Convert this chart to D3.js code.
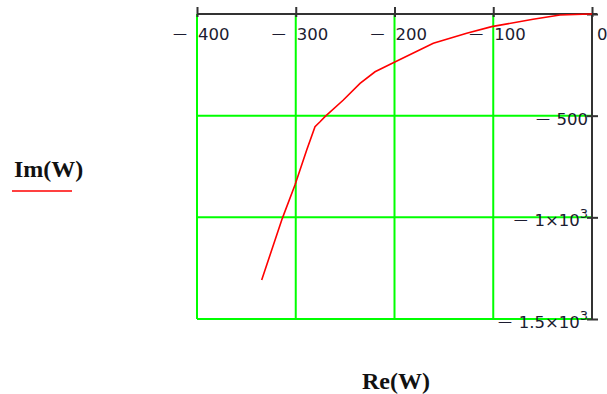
<!DOCTYPE html>
<html><head><meta charset="utf-8">
<script src="https://cdn.jsdelivr.net/npm/d3@7"></script>
<style>body{margin:0;background:#fff;} svg{display:block;}</style>
</head><body>
<svg id="c" width="607" height="394"></svg>
<script>
const reVals = [-334.5, -313.6, -300.8, -288.9, -280.5, -275.4, -270.4, -251.8, -234.9, -219.7, -201.2, -160.7, -126.9, -101.6, -59.7, -32.4, -2, 0];
const imVals = [-1308, -1005, -841, -669, -554, -530, -505, -423, -341, -284, -240, -144, -95, -62, -26, -5, 0, 0];
const xTicks = [-400, -300, -200, -100, 0];
const xTickLabels = ["400", "300", "200", "100", "0"];
const yTicks = [0, -500, -1000, -1500];
const yTickLabels = ["", "500", "1", "1.5"];
const yLabel = "Im(W)";
const xLabel = "Re(W)";

const svg = d3.select("#c");
const x = d3.scaleLinear().domain([-400, 0]).range([197, 592]);
const y = d3.scaleLinear().domain([0, -1500]).range([14, 319]);
const font = "'DejaVu Sans', Verdana, sans-serif";
const fs = 16.5;
const txtCol = "#1c1c30";

// grid
const g = svg.append("g");
xTicks.filter(d => d !== 0).forEach(d => {
  g.append("line").attr("x1", x(d)).attr("x2", x(d)).attr("y1", y(0)).attr("y2", y(-1500))
    .attr("stroke", "#00ff00").attr("stroke-width", 2);
});
yTicks.filter(d => d !== 0).forEach(d => {
  g.append("line").attr("x1", x(-400)).attr("x2", x(0)).attr("y1", y(d)).attr("y2", y(d))
    .attr("stroke", "#00ff00").attr("stroke-width", 2);
});

// top axis
const topAxis = d3.axisTop(x).tickValues(xTicks).tickSize(8).tickFormat("");
const ta = svg.append("g").attr("transform", `translate(0,${y(0)})`).call(topAxis);
ta.select(".domain").attr("stroke", "#333").attr("stroke-width", 2).attr("d", `M${x(-400)},0H${x(0)+5}`);
ta.selectAll(".tick line").attr("stroke", "#333").attr("stroke-width", 2).attr("y1", 3).attr("y2", -7);

// right axis
const rightAxis = d3.axisRight(y).tickValues(yTicks).tickSize(6).tickFormat("");
const ra = svg.append("g").attr("transform", `translate(${x(0)},0)`).call(rightAxis);
ra.select(".domain").attr("stroke", "#333").attr("stroke-width", 2).attr("d", `M0,${y(0)}V${y(-1500)+1}`);
ra.selectAll(".tick line").attr("stroke", "#333").attr("stroke-width", 2).attr("x1", -5).attr("x2", 6);

// x tick labels
xTicks.forEach((d, i) => {
  const t = svg.append("text").attr("y", 40).attr("font-family", font).attr("font-size", fs).attr("fill", txtCol);
  if (d < 0) {
    t.append("tspan").attr("x", x(d) - 24).attr("dy", -2).attr("font-size", 14).text("\u2014");
    t.append("tspan").attr("x", x(d) + 1).attr("dy", 2).text(xTickLabels[i]);
  } else {
    t.append("tspan").attr("x", x(d) + 5).text(xTickLabels[i]);
  }
});

// y tick labels
yTicks.forEach((d, i) => {
  if (!yTickLabels[i]) return;
  const t = svg.append("text").attr("y", y(d) + 9).attr("font-family", font).attr("font-size", fs)
    .attr("fill", txtCol).attr("text-anchor", "end").attr("x", x(0) - 4);
  t.append("tspan").attr("font-size", 14).attr("dy", -2).text("\u2014");
  if (d === -500) {
    t.append("tspan").attr("dy", 2).text("\u2009\u2009" + yTickLabels[i]);
  } else {
    t.append("tspan").attr("dy", 2).text("\u2009\u2009" + yTickLabels[i] + "\u00d710");
    t.append("tspan").attr("font-size", 13).attr("dy", -8).text("3");
  }
});

// curve
const line = d3.line().x((d, i) => x(reVals[i])).y((d, i) => y(imVals[i]));
svg.append("path").datum(reVals).attr("d", line).attr("fill", "none")
  .attr("stroke", "#ff0000").attr("stroke-width", 1.6);

// axis titles
const serif = "'Liberation Serif', 'Times New Roman', serif";
svg.append("text").attr("x", 14).attr("y", 177).attr("font-family", serif)
  .attr("font-weight", "bold").attr("font-size", 24).attr("fill", "#111").text(yLabel);
svg.append("line").attr("x1", 12).attr("x2", 72).attr("y1", 191).attr("y2", 191)
  .attr("stroke", "#ff0000").attr("stroke-width", 1.6);
svg.append("text").attr("x", 362).attr("y", 389).attr("font-family", serif)
  .attr("font-weight", "bold").attr("font-size", 24).attr("fill", "#111").text(xLabel);
</script>
</body></html>
